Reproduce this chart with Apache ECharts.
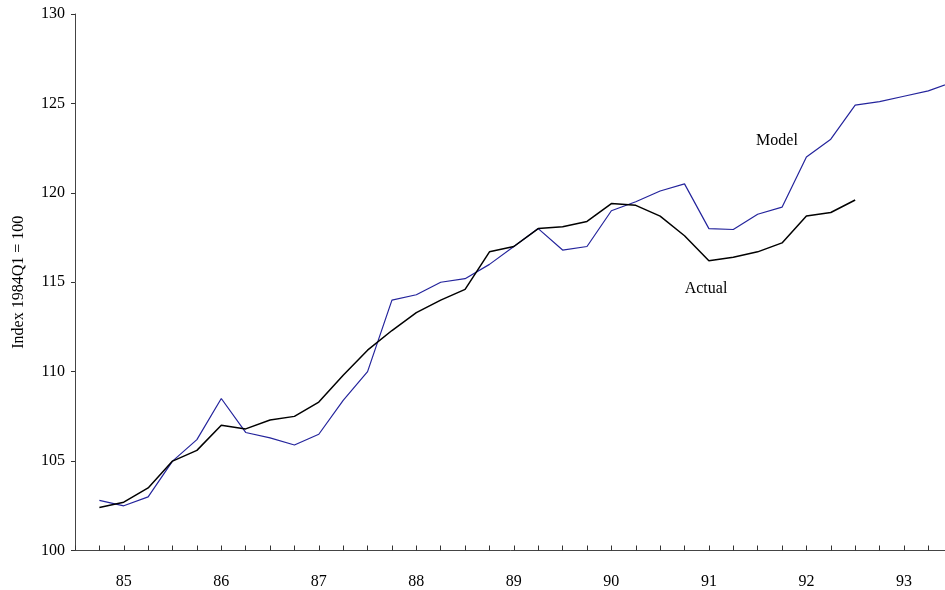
<!DOCTYPE html>
<html>
<head>
<meta charset="utf-8">
<script src="https://cdn.jsdelivr.net/npm/echarts@6/dist/echarts.min.js"></script>
<style>
html,body{margin:0;padding:0;background:#fff;}
#chart{width:945px;height:590px;}
</style>
</head>
<body>
<div id="chart"></div>
<script>
// Quarters from 1984Q3 to 1993Q3
const quarters = [
 '84Q3','84Q4',
 '85Q1','85Q2','85Q3','85Q4',
 '86Q1','86Q2','86Q3','86Q4',
 '87Q1','87Q2','87Q3','87Q4',
 '88Q1','88Q2','88Q3','88Q4',
 '89Q1','89Q2','89Q3','89Q4',
 '90Q1','90Q2','90Q3','90Q4',
 '91Q1','91Q2','91Q3','91Q4',
 '92Q1','92Q2','92Q3','92Q4',
 '93Q1','93Q2','93Q3'
];
const modelValues = [
 null, 102.8,
 102.5, 103.0, 105.0, 106.2,
 108.5, 106.6, 106.3, 105.9,
 106.5, 108.4, 110.0, 114.0,
 114.3, 115.0, 115.2, 116.0,
 117.0, 118.0, 116.8, 117.0,
 119.0, 119.5, 120.1, 120.5,
 118.0, 117.95, 118.8, 119.2,
 122.0, 123.0, 124.9, 125.1,
 125.4, 125.7, 126.2
];
const actualValues = [
 null, 102.4,
 102.7, 103.5, 105.0, 105.6,
 107.0, 106.8, 107.3, 107.5,
 108.3, 109.8, 111.2, 112.3,
 113.3, 114.0, 114.6, 116.7,
 117.0, 118.0, 118.1, 118.4,
 119.4, 119.3, 118.7, 117.6,
 116.2, 116.4, 116.7, 117.2,
 118.7, 118.9, 119.6, null,
 null, null, null
];
const yTitle = 'Index 1984Q1 = 100';
const seriesNames = ['Model', 'Actual'];

const font = 'Liberation Serif, Times New Roman, serif';
const chart = echarts.init(document.getElementById('chart'));
chart.setOption({
  animation: false,
  backgroundColor: '#fff',
  grid: {left: 75, top: 14, width: 877.7, height: 536.5, containLabel: false, outerBoundsMode: 'none'},
  xAxis: {
    type: 'category',
    data: quarters,
    boundaryGap: false,
    axisLine: {show: true, lineStyle: {color: '#444', width: 1}},
    axisTick: {show: true, inside: true, length: 5, interval: 0, lineStyle: {color: '#333'}},
    axisLabel: {
      interval: function (i, v) { return v.slice(2) === 'Q1'; },
      formatter: function (v) { return v.slice(0, 2); },
      margin: 23,
      fontFamily: font, fontSize: 16, color: '#000'
    },
    splitLine: {show: false}
  },
  yAxis: {
    type: 'value',
    min: 100, max: 130, interval: 5,
    name: yTitle,
    nameLocation: 'middle',
    nameRotate: 90,
    nameGap: 48,
    nameTextStyle: {fontFamily: font, fontSize: 16, color: '#000'},
    axisLine: {show: true, lineStyle: {color: '#444', width: 1}},
    axisTick: {show: true, inside: false, length: 4, lineStyle: {color: '#333'}},
    axisLabel: {margin: 10, fontFamily: font, fontSize: 16, color: '#000'},
    splitLine: {show: false}
  },
  series: [
    {
      name: seriesNames[0], type: 'line', data: modelValues,
      symbol: 'none', connectNulls: false,
      lineStyle: {color: '#24249c', width: 1.2}
    },
    {
      name: seriesNames[1], type: 'line', data: actualValues,
      symbol: 'none', connectNulls: false,
      lineStyle: {color: '#000', width: 1.5}
    }
  ],
  graphic: [
    {type: 'text', x: 777, y: 141, style: {text: seriesNames[0], font: '16px ' + font, fill: '#000', align: 'center', verticalAlign: 'middle'}},
    {type: 'text', x: 706, y: 289, style: {text: seriesNames[1], font: '16px ' + font, fill: '#000', align: 'center', verticalAlign: 'middle'}}
  ]
});
</script>
</body>
</html>
